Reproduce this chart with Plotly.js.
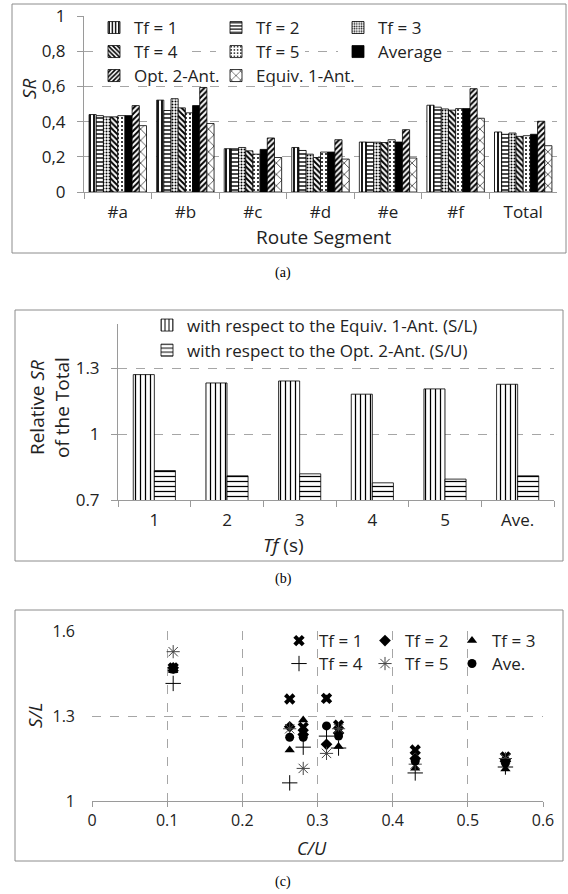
<!DOCTYPE html>
<html><head><meta charset="utf-8">
<script src="https://cdn.plot.ly/plotly-3.0.1.min.js"></script>
<style>html,body{margin:0;padding:0;background:#fff}#chart{width:568px;height:894px}</style>
</head><body><div id="chart"></div>
<script>
// ---------- Panel (a) data ----------
const segments = ['#a', '#b', '#c', '#d', '#e', '#f', 'Total'];
const srTf1 = [0.440, 0.522, 0.246, 0.253, 0.284, 0.493, 0.341];
const srTf2 = [0.434, 0.463, 0.246, 0.236, 0.283, 0.482, 0.328];
const srTf3 = [0.427, 0.530, 0.253, 0.215, 0.283, 0.472, 0.335];
const srTf4 = [0.427, 0.478, 0.234, 0.196, 0.281, 0.465, 0.316];
const srTf5 = [0.434, 0.450, 0.215, 0.227, 0.297, 0.474, 0.320];
const srAvg = [0.434, 0.491, 0.242, 0.227, 0.284, 0.474, 0.328];
const srOpt2 = [0.491, 0.594, 0.307, 0.297, 0.354, 0.587, 0.402];
const srEquiv1 = [0.377, 0.389, 0.196, 0.187, 0.193, 0.419, 0.263];
const srTickVals = [0, 0.2, 0.4, 0.6, 0.8, 1];
const srTickText = ['0', '0,2', '0,4', '0,6', '0,8', '1'];

// ---------- Panel (b) data ----------
const tfLabels = ['1', '2', '3', '4', '5', 'Ave.'];
const relSL = [1.270, 1.232, 1.241, 1.181, 1.205, 1.226];
const relSU = [0.834, 0.810, 0.819, 0.778, 0.795, 0.810];
const relTickVals = [0.7, 1, 1.3];
const relTickText = ['0.7', '1', '1.3'];

// ---------- Panel (c) data ----------
const cuX = [0.108, 0.263, 0.281, 0.312, 0.328, 0.430, 0.550];
const slTf1 = [1.470, 1.360, 1.260, 1.362, 1.268, 1.180, 1.156];
const slTf2 = [1.470, 1.262, 1.235, 1.200, 1.240, 1.150, 1.140];
const slTf3 = [1.460, 1.180, 1.286, 1.360, 1.192, 1.116, 1.113];
const slTf4 = [1.415, 1.064, 1.190, 1.229, 1.187, 1.099, 1.120];
const slTf5 = [1.527, 1.255, 1.115, 1.168, 1.255, 1.130, 1.150];
const slAve = [1.465, 1.225, 1.225, 1.265, 1.229, 1.141, 1.134];
const slTickVals = [1, 1.3, 1.6];
const slTickText = ['1', '1.3', '1.6'];

// ---------- helpers ----------
const W = 568, H = 894;
const X = p => p / W, Y = p => 1 - p / H;
const FONT = '"Open Sans", Lato, sans-serif';
const TXT = '#222';
const GRID = '#a6a6a6';
const AX = '#9a9a9a';

function barA(name, y, shape, size, solidity, legend) {
  const t = {
    type: 'bar', name: name, x: segments, y: y, xaxis: 'x', yaxis: 'y', legend: legend,
    marker: { color: '#fff', line: { color: '#000', width: 0.8 } }
  };
  if (shape === 'solid') {
    t.marker.color = '#000';
  } else {
    t.marker.pattern = { shape: shape, size: size, solidity: solidity, fgcolor: '#000', bgcolor: '#fff', fillmode: 'replace' };
  }
  return t;
}

const traces = [
  barA('Tf = 1', srTf1, '|', 4, 0.45, 'legend'),
  barA('Tf = 2', srTf2, '-', 4, 0.35, 'legend2'),
  barA('Tf = 3', srTf3, '.', 3, 0.35, 'legend3'),
  barA('Tf = 4', srTf4, '\\', 4, 0.5, 'legend4'),
  barA('Tf = 5', srTf5, '.', 4, 0.2, 'legend5'),
  barA('Average', srAvg, 'solid', 0, 0, 'legend6'),
  barA('Opt. 2-Ant.', srOpt2, '/', 4, 0.5, 'legend7'),
  barA('Equiv. 1-Ant.', srEquiv1, 'x', 8, 0.15, 'legend8'),
  {
    type: 'bar', name: 'with respect to the Equiv. 1-Ant. (S/L)', x: tfLabels, y: relSL,
    xaxis: 'x2', yaxis: 'y2', legend: 'legend9', offset: -0.29, width: 0.29,
    marker: { color: '#fff', line: { color: '#000', width: 0.8 },
      pattern: { shape: '|', size: 5, solidity: 0.25, fgcolor: '#000', bgcolor: '#fff', fillmode: 'replace' } }
  },
  {
    type: 'bar', name: 'with respect to the Opt. 2-Ant. (S/U)', x: tfLabels, y: relSU,
    xaxis: 'x2', yaxis: 'y2', legend: 'legend9', offset: 0, width: 0.29,
    marker: { color: '#fff', line: { color: '#000', width: 0.8 },
      pattern: { shape: '-', size: 5, solidity: 0.25, fgcolor: '#000', bgcolor: '#fff', fillmode: 'replace' } }
  }
];

function pts(name, y, symbol, size, legend, thin, col) {
  return {
    type: 'scatter', mode: 'markers', name: name, x: cuX, y: y, xaxis: 'x3', yaxis: 'y3', legend: legend,
    marker: { symbol: symbol, size: size, color: col || '#000',
      line: thin ? { color: col || '#000', width: 1 } : { width: 0 } }
  };
}
traces.push(pts('Tf = 1', slTf1, 'x', 10, 'legend10'));
traces.push(pts('Tf = 2', slTf2, 'diamond', 9, 'legend11'));
traces.push(pts('Tf = 3', slTf3, 'triangle-up', 9, 'legend12'));
traces.push(pts('Tf = 4', slTf4, 'cross-thin', 11, 'legend13', true));
traces.push(pts('Tf = 5', slTf5, 'asterisk', 11, 'legend14', true, '#444'));
traces.push(pts('Ave.', slAve, 'circle', 9, 'legend15'));

const tickFont = { family: FONT, size: 17, color: TXT };

function legendAt(x, y, opts) {
  return Object.assign({
    x: X(x), xanchor: 'left', y: Y(y), yanchor: 'middle', xref: 'paper', yref: 'paper',
    orientation: 'v', bgcolor: 'rgba(0,0,0,0)', borderwidth: 0,
    font: { family: FONT, size: 17, color: TXT }, traceorder: 'normal'
  }, opts || {});
}

function ann(text, x, y, size, angle, extra) {
  return Object.assign({
    text: text, x: X(x), y: Y(y), xref: 'paper', yref: 'paper', showarrow: false,
    xanchor: 'center', yanchor: 'middle', textangle: angle || 0,
    font: { family: FONT, size: size, color: TXT }
  }, extra || {});
}

const serif = { family: '"Liberation Serif", serif', size: 14, color: '#000' };
const frameLine = { color: '#8c8c8c', width: 1 };
const cFont = { family: FONT, size: 17, color: TXT };
const layout = {
  width: W, height: H, margin: { l: 0, r: 0, t: 0, b: 0 },
  paper_bgcolor: '#fff', plot_bgcolor: 'rgba(0,0,0,0)',
  barmode: 'group', bargap: 0.15, bargroupgap: 0,
  showlegend: true,
  font: { family: FONT, color: TXT },
  xaxis: {
    domain: [X(84), X(557)], anchor: 'y', type: 'category', categoryorder: 'array', categoryarray: segments,
    tickson: 'boundaries', ticks: 'outside', ticklen: 6, tickcolor: AX,
    showline: true, linecolor: AX, linewidth: 1, showgrid: false, zeroline: false,
    tickfont: tickFont, ticklabelstandoff: 5
  },
  yaxis: {
    domain: [Y(192), Y(16)], anchor: 'x', range: [0, 1], tickvals: srTickVals, ticktext: srTickText,
    ticks: 'outside', ticklen: 6, tickcolor: AX, showline: true, linecolor: AX, linewidth: 1,
    showgrid: true, gridcolor: GRID, griddash: 'dash', gridwidth: 1, zeroline: false,
    tickfont: tickFont, ticklabelstandoff: 8
  },
  xaxis2: {
    domain: [X(118), X(554)], anchor: 'y2', type: 'category', categoryorder: 'array', categoryarray: tfLabels,
    tickson: 'boundaries', ticks: 'outside', ticklen: 6, tickcolor: AX,
    showline: true, linecolor: AX, linewidth: 1, showgrid: false, zeroline: false,
    tickfont: tickFont, ticklabelstandoff: 5
  },
  yaxis2: {
    domain: [Y(500), Y(324)], anchor: 'x2', range: [0.7, 1.5], tickvals: relTickVals, ticktext: relTickText,
    ticks: 'outside', ticklen: 6, tickcolor: AX, showline: true, linecolor: AX, linewidth: 1,
    showgrid: true, gridcolor: GRID, griddash: 'dash', zeroline: false,
    tickfont: tickFont, ticklabelstandoff: 8
  },
  xaxis3: {
    domain: [X(92), X(543)], anchor: 'y3', range: [0, 0.6], dtick: 0.1, tick0: 0,
    ticks: 'outside', ticklen: 5, tickcolor: AX, showline: true, linecolor: AX, linewidth: 1,
    showgrid: true, gridcolor: GRID, griddash: 'dash', zeroline: false,
    tickfont: { family: FONT, size: 16, color: TXT }, ticklabelstandoff: 0
  },
  yaxis3: {
    domain: [Y(801), Y(631)], anchor: 'x3', range: [1, 1.6], tickvals: slTickVals, ticktext: slTickText,
    ticks: '', showline: false, showgrid: true, gridcolor: GRID, griddash: 'dash', zeroline: false,
    tickfont: { family: FONT, size: 16, color: TXT }, ticklabelstandoff: 16
  },
  // panel (a) legend: 3 x 3 grid of single entries
  legend: legendAt(94, 28),
  legend2: legendAt(216, 28),
  legend3: legendAt(338, 28),
  legend4: legendAt(94, 52, { bgcolor: '#fff' }),
  legend5: legendAt(216, 52, { bgcolor: '#fff' }),
  legend6: legendAt(338, 52, { bgcolor: '#fff' }),
  legend7: legendAt(94, 76),
  legend8: legendAt(216, 76),
  // panel (b) legend
  legend9: legendAt(147, 338),
  // panel (c) legend: 3 x 2 grid
  legend10: legendAt(279, 641, { font: cFont }),
  legend11: legendAt(365, 641, { font: cFont }),
  legend12: legendAt(452, 641, { font: cFont }),
  legend13: legendAt(279, 664, { font: cFont }),
  legend14: legendAt(365, 664, { font: cFont }),
  legend15: legendAt(452, 664, { font: cFont }),
  shapes: [
    { type: 'rect', xref: 'paper', yref: 'paper', x0: X(12), x1: X(566), y0: Y(253), y1: Y(4), line: frameLine },
    { type: 'rect', xref: 'paper', yref: 'paper', x0: X(15), x1: X(563), y0: Y(561), y1: Y(310), line: frameLine },
    { type: 'rect', xref: 'paper', yref: 'paper', x0: X(15), x1: X(563), y0: Y(861), y1: Y(610), line: frameLine }
  ],
  annotations: [
    ann('<i>SR</i>', 29, 89, 19, -90),
    ann('Route Segment', 324, 237, 19, 0),
    ann('Relative <i>SR</i><br>of the Total', 49, 408, 19, -90),
    ann('<i>Tf</i> (s)', 283, 545, 19, 0),
    ann('<i>S/L</i>', 35, 716, 19, -90),
    ann('<i>C/U</i>', 312, 848, 18, 0),
    ann('(a)', 283, 273, 14, 0, { font: serif }),
    ann('(b)', 283, 579, 14, 0, { font: serif }),
    ann('(c)', 283, 882, 14, 0, { font: serif })
  ]
};

Plotly.newPlot('chart', traces, layout, { staticPlot: true, displayModeBar: false });
</script>
</body></html>
